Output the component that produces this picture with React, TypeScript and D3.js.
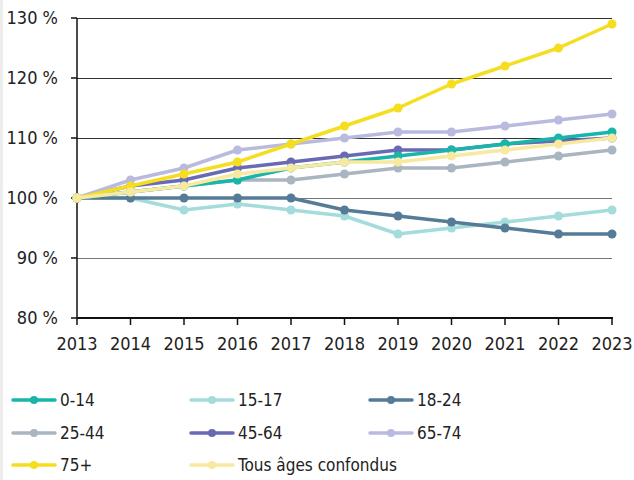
import React from "react";
import * as d3 from "d3";

const years = [2013, 2014, 2015, 2016, 2017, 2018, 2019, 2020, 2021, 2022, 2023];
const yTicks = [80, 90, 100, 110, 120, 130];

const seriesNames = ["0-14", "15-17", "18-24", "25-44", "45-64", "65-74", "75+", "Tous âges confondus"];
const seriesColors = ["#17b5aa", "#a4dcdc", "#567b96", "#aab5c2", "#6a6ab4", "#babadf", "#f5dd1f", "#f8e9a0"];

const v0_14 = [100, 101, 102, 103, 105, 106, 107, 108, 109, 110, 111];
const v15_17 = [100, 100, 98, 99, 98, 97, 94, 95, 96, 97, 98];
const v18_24 = [100, 100, 100, 100, 100, 98, 97, 96, 95, 94, 94];
const v25_44 = [100, 101, 102, 103, 103, 104, 105, 105, 106, 107, 108];
const v45_64 = [100, 102, 103, 105, 106, 107, 108, 108, 109, 109.5, 110];
const v65_74 = [100, 103, 105, 108, 109, 110, 111, 111, 112, 113, 114];
const v75 = [100, 102, 104, 106, 109, 112, 115, 119, 122, 125, 129];
const vTous = [100, 101, 102, 104, 105, 106, 106, 107, 108, 109, 110];

const seriesValues = [v0_14, v15_17, v18_24, v25_44, v45_64, v65_74, v75, vTous];
const drawOrder = [1, 2, 3, 4, 0, 5, 6, 7];

const FONT = "'Liberation Sans Narrow', 'DejaVu Sans Condensed', 'Roboto', sans-serif";

export default function App() {
  const W = 634, H = 480;
  const x = d3.scaleLinear().domain([2013, 2023]).range([77, 612]);
  const y = d3.scaleLinear().domain([80, 130]).range([318, 18]);
  const line = d3.line<number>().x((_, i) => x(years[i])).y((d) => y(d));

  const legendCols = [13, 191, 370];
  const legendRows = [400, 433, 465];

  return (
    <svg width={W} height={H} style={{ position: "absolute", left: 0, top: 0 }}>
      <rect x={0} y={0} width={W} height={H} fill="#ffffff" />
      <rect x={0} y={0} width={3} height={H} fill="#ededed" />
      {yTicks.filter((t) => t !== 80).map((t) => (
        <line key={t} x1={77} x2={612} y1={Math.round(y(t)) + 0.5} y2={Math.round(y(t)) + 0.5}
          stroke={t >= 110 ? "#333" : "#777"} strokeWidth={1} />
      ))}
      {/* y axis */}
      <line x1={77} x2={77} y1={18} y2={318} stroke="#111" strokeWidth={1.5} />
      {yTicks.map((t) => (
        <g key={t}>
          <line x1={71} x2={77} y1={y(t)} y2={y(t)} stroke="#111" strokeWidth={1.5} />
          <text x={58} y={y(t) + 6} textAnchor="end" fontFamily={FONT} fontSize={18} fill="#222">
            {t} %
          </text>
        </g>
      ))}
      {/* x axis */}
      <line x1={77} x2={613} y1={318} y2={318} stroke="#111" strokeWidth={2} />
      {years.map((yr) => (
        <g key={yr}>
          <line x1={x(yr)} x2={x(yr)} y1={318} y2={325} stroke="#111" strokeWidth={1.5} />
          <text x={x(yr)} y={350} textAnchor="middle" fontFamily={FONT} fontSize={18} fill="#222">
            {yr}
          </text>
        </g>
      ))}
      {drawOrder.map((si) => (
        <g key={si}>
          <path d={line(seriesValues[si]) || ""} fill="none" stroke={seriesColors[si]} strokeWidth={3.5}
            strokeLinejoin="round" />
          {seriesValues[si].map((v, i) => (
            <circle key={i} cx={x(years[i])} cy={y(v)} r={4.5} fill={seriesColors[si]} />
          ))}
        </g>
      ))}
      {/* legend */}
      {seriesNames.map((n, i) => {
        const cx = legendCols[i % 3];
        const cy = legendRows[Math.floor(i / 3)];
        return (
          <g key={n}>
            <line x1={cx} x2={cx + 42} y1={cy} y2={cy} stroke={seriesColors[i]} strokeWidth={3.5} strokeLinecap="round" />
            <circle cx={cx + 21} cy={cy} r={4} fill={seriesColors[i]} />
            <text x={cx + 47} y={cy + 6} fontFamily={FONT} fontSize={17} fill="#222">{n}</text>
          </g>
        );
      })}
    </svg>
  );
}
